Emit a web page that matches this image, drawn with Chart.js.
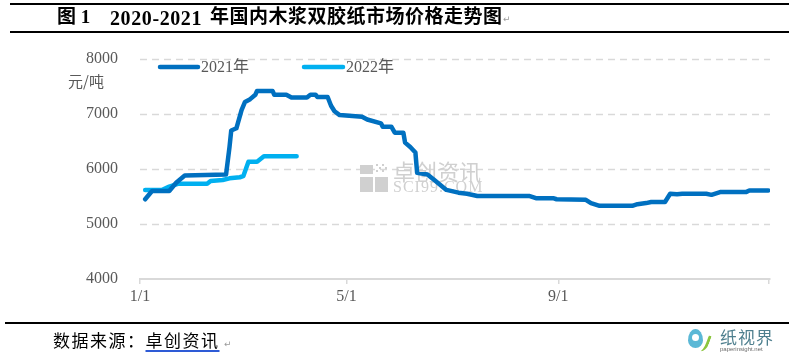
<!DOCTYPE html>
<html>
<head>
<meta charset="utf-8">
<script src="https://cdn.jsdelivr.net/npm/chart.js@4.4.1/dist/chart.umd.min.js"></script>
<style>
  html, body { margin: 0; padding: 0; background: #fff; }
  #wrap { position: relative; width: 789px; height: 353px; overflow: hidden; background: #fff; }
  #c { position: absolute; left: 0; top: 0; }
  .t { position: absolute; white-space: nowrap; line-height: 1.1; }
  .rule { position: absolute; height: 2px; background: #000; }
  .title { font-family: "Liberation Serif", "Noto Sans CJK SC", serif; font-weight: bold; font-size: 19px; color: #000; }
  .mark { font-family: "DejaVu Sans", sans-serif; font-size: 9px; color: #9a9a9a; }
</style>
</head>
<body>
<div id="wrap">
  <canvas id="c" width="789" height="353"></canvas>
  <div class="rule" style="left:10px; top:3px; width:779px;"></div>
  <div class="rule" style="left:10px; top:31px; width:779px;"></div>
  <div class="t title" style="left:57px; top:7px;">图 1</div>
  <div class="t title" style="left:110px; top:7px; font-size:20px; letter-spacing:0.6px;">2020-2021</div>
  <div class="t title" style="left:210px; top:7px; letter-spacing:0.5px; font-weight:600;">年国内木浆双胶纸市场价格走势图</div>
  <div class="t mark" style="left:503px; top:15px;">↵</div>

  <div class="t" style="left:68px; top:73px; font-family:'Noto Sans CJK SC', sans-serif; font-size:15px; color:#595959;">元/吨</div>

  <div class="rule" style="left:5px; top:322px; width:784px;"></div>
  <div class="t" style="left:53px; top:331px; font-family:'Noto Sans CJK SC', sans-serif; font-size:17px; color:#000; letter-spacing:1.5px;">数据来源：<span style="text-decoration:underline; text-decoration-color:#2e5bd6; text-decoration-thickness:1.5px; text-underline-offset:3px;">卓创资讯</span></div>
  <div class="t mark" style="left:224px; top:340px;">↵</div>

  <!-- logo -->
  <div style="position:absolute; left:688px; top:329px; width:15px; height:19px; border-radius:50% 50% 50% 50% / 60% 60% 40% 40%; background:#5bb8d6;"></div>
  <div style="position:absolute; left:692px; top:334px; width:7px; height:7px; border-radius:50%; background:#fff;"></div>
  <div style="position:absolute; left:699px; top:334px; width:7px; height:18px; border-right:3px solid #8cc63f; border-radius:0 0 60% 0; transform:rotate(20deg);"></div>
  <div class="t" style="left:720px; top:328px; font-family:'Noto Sans CJK SC', sans-serif; font-size:17px; color:#4e7f8e; letter-spacing:1px;">纸视界</div>
  <div class="t" style="left:720px; top:346px; font-family:'Liberation Sans', sans-serif; font-size:6px; color:#6a6a6a;">paperinsight.net</div>
</div>
<script>
// day of year (0 = 1/1) and price, yuan/ton
const days2021 = [3, 7, 17, 21, 26, 50, 52, 53, 56, 59, 61, 64, 67, 68, 77, 78, 85, 88, 97, 99, 102, 103, 109, 111, 113, 116, 129, 132, 140, 141, 146, 148, 153, 154, 157, 160, 161, 167, 171, 178, 185, 190, 196, 226, 230, 240, 242, 259, 262, 267, 286, 289, 294, 297, 305, 308, 312, 315, 329, 332, 337, 352, 354, 365];
const values2021 = [5450, 5600, 5600, 5750, 5880, 5900, 6400, 6700, 6740, 7070, 7220, 7270, 7350, 7420, 7420, 7350, 7350, 7300, 7300, 7350, 7350, 7310, 7310, 7150, 7050, 6980, 6950, 6900, 6830, 6770, 6770, 6660, 6660, 6480, 6400, 6300, 5930, 5900, 5800, 5620, 5570, 5550, 5510, 5510, 5470, 5470, 5450, 5440, 5380, 5330, 5330, 5360, 5380, 5400, 5400, 5550, 5540, 5550, 5550, 5530, 5580, 5580, 5610, 5610];

const days2022 = [3, 13, 17, 22, 39, 41, 48, 52, 58, 60, 63, 68, 70, 72, 91];
const values2022 = [5620, 5620, 5680, 5730, 5730, 5780, 5800, 5830, 5850, 5870, 6130, 6130, 6180, 6230, 6230];

const seriesNames = ['2021年', '2022年'];
const seriesColors = ['#0070C0', '#00B0F0'];

const tickDays = [0, 120, 243, 365];
const tickLabels = ['1/1', '5/1', '9/1', ''];
const yTicks = [4000, 5000, 6000, 7000, 8000];

const toPoints = (xs, ys) => xs.map((d, i) => ({ x: d, y: ys[i] }));

// dashed horizontal grid, from the y scale
const dashedGrid = {
  id: 'dashedGrid',
  beforeDatasetsDraw(chart) {
    const { ctx, chartArea, scales } = chart;
    ctx.save();
    ctx.strokeStyle = '#d9d9d9';
    ctx.lineWidth = 1.5;
    ctx.setLineDash([7, 5]);
    yTicks.slice(1).forEach(v => {
      const y = Math.round(scales.y.getPixelForValue(v)) + 0.5;
      ctx.beginPath();
      ctx.moveTo(chartArea.left, y);
      ctx.lineTo(chartArea.right, y);
      ctx.stroke();
    });
    ctx.restore();
  }
};

// faint watermark behind the lines
const watermark = {
  id: 'watermark',
  beforeDatasetsDraw(chart) {
    const ctx = chart.ctx;
    ctx.save();
    ctx.fillStyle = '#d0d0d0';
    ctx.fillRect(360, 165, 13, 9);
    ctx.fillRect(360, 177, 13, 15);
    ctx.fillRect(375, 177, 13, 15);
    for (let r = 0; r < 3; r++) {
      for (let c = 0; c < 4; c++) {
        if ((r + c) % 2 === 0) ctx.fillRect(376 + c * 3, 164 + r * 3, 2, 2);
      }
    }
    ctx.font = '22px "Noto Sans CJK SC", sans-serif';
    ctx.textBaseline = 'middle';
    ctx.fillText('卓创资讯', 393, 172);
    ctx.font = '16px "Liberation Serif", serif';
    ctx.letterSpacing = '1px';
    ctx.fillText('SCI99.COM', 393, 188);
    ctx.restore();
  }
};

// legend drawn inside the plot, like the original
const innerLegend = {
  id: 'innerLegend',
  afterDatasetsDraw(chart) {
    const ctx = chart.ctx;
    const spots = [{ x: 160, w: 38 }, { x: 304, w: 39 }];
    const y = 67;
    chart.data.datasets.forEach((ds, i) => {
      const s = spots[i];
      ctx.save();
      ctx.strokeStyle = ds.borderColor;
      ctx.lineWidth = 4.5;
      ctx.lineCap = 'round';
      ctx.beginPath();
      ctx.moveTo(s.x, y);
      ctx.lineTo(s.x + s.w, y);
      ctx.stroke();
      ctx.fillStyle = '#595959';
      ctx.font = '16px "Liberation Serif", "Noto Sans CJK SC", serif';
      ctx.textBaseline = 'middle';
      ctx.fillText(ds.label, s.x + s.w + 3, y + 1);
      ctx.restore();
    });
  }
};

new Chart(document.getElementById('c'), {
  type: 'line',
  data: {
    datasets: [
      { label: seriesNames[0], data: toPoints(days2021, values2021), borderColor: seriesColors[0] },
      { label: seriesNames[1], data: toPoints(days2022, values2022), borderColor: seriesColors[1] }
    ]
  },
  options: {
    responsive: false,
    animation: false,
    events: [],
    layout: { padding: { left: 0, right: 19, top: 59, bottom: 44 } },
    elements: {
      line: { borderWidth: 4.5, tension: 0, borderCapStyle: 'round', borderJoinStyle: 'round', fill: false },
      point: { radius: 0 }
    },
    plugins: { legend: { display: false }, tooltip: { enabled: false } },
    scales: {
      x: {
        type: 'linear',
        min: 0,
        max: 366,
        afterBuildTicks: (scale) => { scale.ticks = tickDays.map(v => ({ value: v })); },
        afterFit: (scale) => { scale.height = 30; },
        ticks: {
          callback: (v) => tickLabels[tickDays.indexOf(v)] ?? '',
          color: '#595959',
          font: { family: '"Liberation Serif", serif', size: 16 },
          padding: 3,
          maxRotation: 0,
          autoSkip: false
        },
        grid: { drawOnChartArea: false, drawTicks: true, tickLength: 5, color: '#d9d9d9', lineWidth: 1.5 },
        border: { display: true, color: '#d9d9d9', width: 2 }
      },
      y: {
        min: 4000,
        max: 8000,
        afterBuildTicks: (scale) => { scale.ticks = yTicks.map(v => ({ value: v })); },
        afterFit: (scale) => { scale.width = 140; },
        ticks: {
          callback: (v) => String(v),
          color: '#595959',
          font: { family: '"Liberation Serif", serif', size: 16 },
          padding: 22
        },
        grid: { display: false, drawTicks: false },
        border: { display: false }
      }
    }
  },
  plugins: [dashedGrid, watermark, innerLegend]
});
</script>
</body>
</html>
